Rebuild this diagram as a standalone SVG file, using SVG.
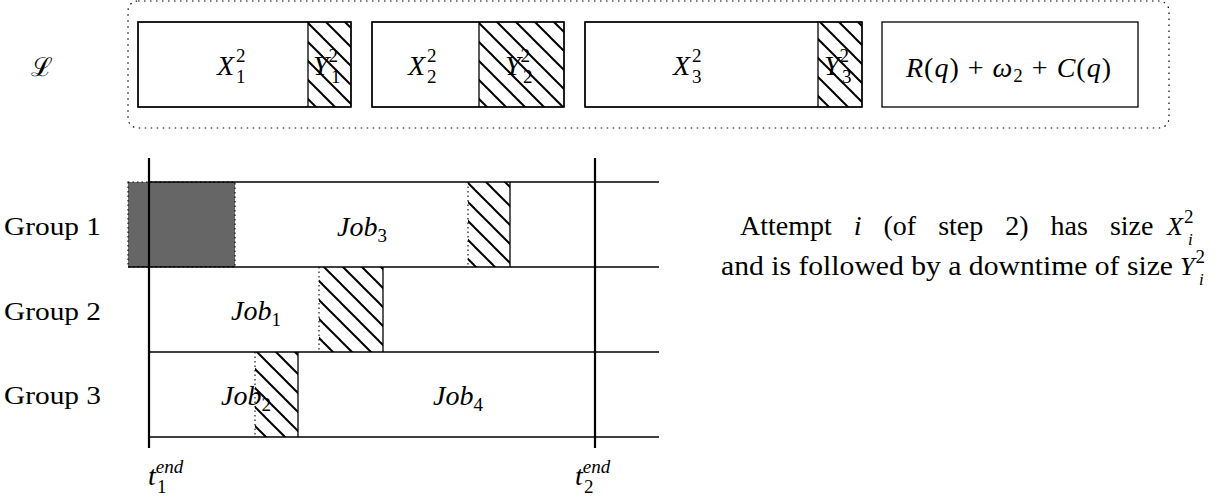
<svg xmlns="http://www.w3.org/2000/svg" width="1226" height="502" viewBox="0 0 1226 502">
<style>
.t{font-family:"Liberation Serif","DejaVu Serif",serif;font-size:25px;fill:#000}
.lg{font-family:"Liberation Serif","DejaVu Serif",serif;font-size:28px;fill:#000}
.m{font-family:"Liberation Serif","DejaVu Serif",serif;font-size:28px;font-style:italic;fill:#000}
.r{font-style:normal}
.s{font-size:19px;font-style:normal}
.si{font-size:17px;font-style:italic}
.box{fill:#fff;stroke:#000;stroke-width:1.3}
.hatch{fill:url(#hp);stroke:none}
.ln{stroke:#000;stroke-width:1.3;fill:none}
.vl{stroke:#000;stroke-width:2.2;fill:none}
.dot{stroke:#000;stroke-width:1.1;stroke-dasharray:1.5 3;fill:none}
</style>
<defs>
<pattern id="hp" patternUnits="userSpaceOnUse" width="19" height="19">
<line x1="0" y1="0" x2="19" y2="19" stroke="#000" stroke-width="2"/>
<line x1="-2" y1="17" x2="2" y2="21" stroke="#000" stroke-width="2"/>
<line x1="17" y1="-2" x2="21" y2="2" stroke="#000" stroke-width="2"/>
</pattern>
</defs>
<rect width="1226" height="502" fill="#fff"/>

<g id="L-label"><text class="m" x="31" y="76" style="font-family:'DejaVu Serif',serif;font-style:normal;font-size:26px">ℒ</text></g>

<g id="list-frame">
<rect x="128" y="1" width="1041" height="127" rx="10" ry="10" style="fill:none;stroke:#000;stroke-width:1.2;stroke-dasharray:1.5 4.5"/>
</g>

<g id="attempt1">
<rect class="box" x="138" y="22" width="213" height="85"/>
<rect class="hatch" x="308" y="22" width="43" height="85"/>
<line class="ln" x1="308" y1="22" x2="308" y2="107"/>
<rect class="box" x="138" y="22" width="213" height="85" style="fill:none"/>
<text class="m" x="217" y="75">X<tspan class="s" dy="-13" dx="2">2</tspan><tspan class="s" x="236" dy="21">1</tspan></text>
<text class="m" x="313" y="75">Y<tspan class="s" dy="-13" dx="0">2</tspan><tspan class="s" x="331" dy="21">1</tspan></text>
</g>

<g id="attempt2">
<rect class="box" x="372" y="22" width="192" height="85"/>
<rect class="hatch" x="479" y="22" width="85" height="85"/>
<line class="ln" x1="479" y1="22" x2="479" y2="107"/>
<rect class="box" x="372" y="22" width="192" height="85" style="fill:none"/>
<text class="m" x="408" y="75">X<tspan class="s" dy="-13" dx="2">2</tspan><tspan class="s" x="427" dy="21">2</tspan></text>
<text class="m" x="505" y="75">Y<tspan class="s" dy="-13" dx="0">2</tspan><tspan class="s" x="523" dy="21">2</tspan></text>
</g>

<g id="attempt3">
<rect class="box" x="585" y="22" width="277" height="85"/>
<rect class="hatch" x="818" y="22" width="44" height="85"/>
<line class="ln" x1="818" y1="22" x2="818" y2="107"/>
<rect class="box" x="585" y="22" width="277" height="85" style="fill:none"/>
<text class="m" x="673" y="75">X<tspan class="s" dy="-13" dx="2">2</tspan><tspan class="s" x="692" dy="21">3</tspan></text>
<text class="m" x="824" y="75">Y<tspan class="s" dy="-13" dx="0">2</tspan><tspan class="s" x="842" dy="21">3</tspan></text>
</g>

<g id="final-box">
<rect class="box" x="882" y="22" width="256" height="85"/>
<text class="m" x="906" y="77" textLength="205">R<tspan class="r">(</tspan>q<tspan class="r">) + </tspan>ω<tspan class="s" dy="5">2</tspan><tspan class="r" dy="-5"> + </tspan>C<tspan class="r">(</tspan>q<tspan class="r">)</tspan></text>
</g>

<g id="group-labels">
<text class="t" x="4" y="235" textLength="97" lengthAdjust="spacingAndGlyphs">Group 1</text>
<text class="t" x="4" y="320" textLength="97" lengthAdjust="spacingAndGlyphs">Group 2</text>
<text class="t" x="4" y="404" textLength="97" lengthAdjust="spacingAndGlyphs">Group 3</text>
</g>

<g id="gantt">
<rect x="128" y="182" width="107" height="85" fill="#666"/>
<rect class="dot" x="128" y="182" width="107" height="85"/>
<rect class="hatch" x="468" y="182" width="42" height="85"/>
<line class="dot" x1="468" y1="182" x2="468" y2="267"/>
<line class="ln" x1="510" y1="182" x2="510" y2="267"/>
<rect class="hatch" x="319" y="267" width="64" height="85"/>
<line class="dot" x1="319" y1="267" x2="319" y2="352"/>
<line class="ln" x1="383" y1="267" x2="383" y2="352"/>
<rect class="hatch" x="255" y="352" width="43" height="85"/>
<line class="dot" x1="255" y1="352" x2="255" y2="437"/>
<line class="ln" x1="298" y1="352" x2="298" y2="437"/>
<line class="ln" x1="149" y1="182" x2="659" y2="182"/>
<line class="ln" x1="128" y1="267" x2="659" y2="267"/>
<line class="ln" x1="149" y1="352" x2="659" y2="352"/>
<line class="ln" x1="149" y1="437" x2="659" y2="437"/>
<line class="vl" x1="149" y1="158" x2="149" y2="448"/>
<line class="vl" x1="595" y1="158" x2="595" y2="448"/>
<text class="m" x="337" y="236">Job<tspan class="s" dy="6">3</tspan></text>
<text class="m" x="231" y="320">Job<tspan class="s" dy="6">1</tspan></text>
<text class="m" x="221" y="405">Job<tspan class="s" dy="6">2</tspan></text>
<text class="m" x="433" y="405">Job<tspan class="s" dy="6">4</tspan></text>
</g>

<g id="time-labels">
<text class="m" x="148" y="485">t<tspan class="si" style="font-size:19px" dy="-12">end</tspan><tspan class="s" x="157" dy="20">1</tspan></text>
<text class="m" x="575" y="485">t<tspan class="si" style="font-size:19px" dy="-12">end</tspan><tspan class="s" x="584" dy="20">2</tspan></text>
</g>

<g id="legend">
<text class="lg" x="740" y="235" style="word-spacing:15px">Attempt <tspan style="font-style:italic">i</tspan> (of step 2) has size</text>
<text class="m" x="1167" y="235" style="font-size:26px">X<tspan class="s" dy="-12" dx="1">2</tspan></text>
<text class="si" x="1188" y="245">i</text>
<text class="lg" x="721" y="275" textLength="452" lengthAdjust="spacingAndGlyphs">and is followed by a downtime of size</text>
<text class="m" x="1180" y="275" style="font-size:26px">Y<tspan class="s" dy="-12" dx="1">2</tspan></text>
<text class="si" x="1199" y="285">i</text>
</g>
</svg>
